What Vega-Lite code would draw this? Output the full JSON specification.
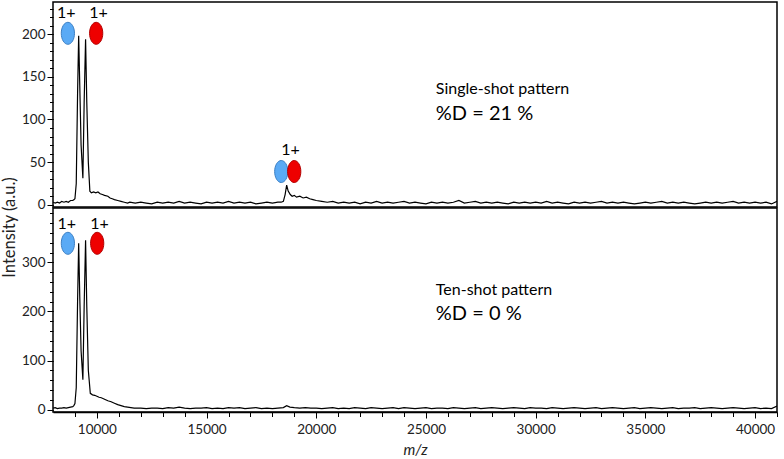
{
  "$schema": "https://vega.github.io/schema/vega-lite/v6.json",
  "padding": {"left": 0, "top": 1, "right": 6, "bottom": 4},
  "bounds": "flush",
  "spacing": 1,
  "config": {
    "font": "Lato",
    "view": {"stroke": "black", "strokeWidth": 1.5},
    "axis": {
      "grid": false,
      "domainColor": "black",
      "domainWidth": 1.5,
      "tickColor": "black",
      "tickWidth": 1,
      "labelColor": "#222",
      "labelFont": "Lato",
      "labelFontSize": 13.5,
      "titleFont": "Lato",
      "titleFontWeight": "normal",
      "titleColor": "#222"
    }
  },
  "datasets": {
    "top": [
      {"mz": 8000, "intensity": 3}, {"mz": 8100, "intensity": 2}, {"mz": 8200, "intensity": 3}, {"mz": 8300, "intensity": 2},
      {"mz": 8400, "intensity": 4}, {"mz": 8500, "intensity": 3}, {"mz": 8600, "intensity": 4}, {"mz": 8700, "intensity": 3},
      {"mz": 8800, "intensity": 5}, {"mz": 8900, "intensity": 5}, {"mz": 8950, "intensity": 6}, {"mz": 9000, "intensity": 7},
      {"mz": 9060, "intensity": 25}, {"mz": 9120, "intensity": 130}, {"mz": 9170, "intensity": 198}, {"mz": 9220, "intensity": 140},
      {"mz": 9280, "intensity": 70}, {"mz": 9362, "intensity": 31}, {"mz": 9420, "intensity": 120}, {"mz": 9485, "intensity": 194},
      {"mz": 9540, "intensity": 120}, {"mz": 9610, "intensity": 50}, {"mz": 9680, "intensity": 16}, {"mz": 9750, "intensity": 14},
      {"mz": 9850, "intensity": 15}, {"mz": 9950, "intensity": 14}, {"mz": 10050, "intensity": 15}, {"mz": 10150, "intensity": 13},
      {"mz": 10250, "intensity": 12}, {"mz": 10350, "intensity": 11}, {"mz": 10500, "intensity": 10}, {"mz": 10600, "intensity": 8},
      {"mz": 10700, "intensity": 7}, {"mz": 10800, "intensity": 6}, {"mz": 10950, "intensity": 5}, {"mz": 11100, "intensity": 4},
      {"mz": 11250, "intensity": 3}, {"mz": 11400, "intensity": 2},
      {"mz": 11500, "intensity": 3}, {"mz": 11750, "intensity": 2}, {"mz": 12000, "intensity": 3}, {"mz": 12250, "intensity": 2},
      {"mz": 12500, "intensity": 1}, {"mz": 12750, "intensity": 3}, {"mz": 13000, "intensity": 2}, {"mz": 13250, "intensity": 3},
      {"mz": 13500, "intensity": 2}, {"mz": 13750, "intensity": 4}, {"mz": 14000, "intensity": 2}, {"mz": 14250, "intensity": 3},
      {"mz": 14500, "intensity": 2}, {"mz": 14750, "intensity": 1}, {"mz": 15000, "intensity": 3}, {"mz": 15250, "intensity": 2},
      {"mz": 15500, "intensity": 3}, {"mz": 15750, "intensity": 2}, {"mz": 16000, "intensity": 4}, {"mz": 16250, "intensity": 2},
      {"mz": 16500, "intensity": 3}, {"mz": 16750, "intensity": 2}, {"mz": 17000, "intensity": 3}, {"mz": 17250, "intensity": 1},
      {"mz": 17500, "intensity": 2}, {"mz": 17750, "intensity": 3}, {"mz": 18000, "intensity": 2}, {"mz": 18250, "intensity": 3},
      {"mz": 18400, "intensity": 3}, {"mz": 18500, "intensity": 4}, {"mz": 18580, "intensity": 12}, {"mz": 18650, "intensity": 23},
      {"mz": 18720, "intensity": 16}, {"mz": 18815, "intensity": 12}, {"mz": 18900, "intensity": 10}, {"mz": 19000, "intensity": 11},
      {"mz": 19100, "intensity": 9}, {"mz": 19250, "intensity": 10}, {"mz": 19400, "intensity": 8}, {"mz": 19550, "intensity": 9},
      {"mz": 19700, "intensity": 7}, {"mz": 19850, "intensity": 6}, {"mz": 20000, "intensity": 5}, {"mz": 20250, "intensity": 4},
      {"mz": 20500, "intensity": 3}, {"mz": 20750, "intensity": 4}, {"mz": 21000, "intensity": 2}, {"mz": 21250, "intensity": 3},
      {"mz": 21500, "intensity": 2}, {"mz": 21750, "intensity": 3}, {"mz": 22000, "intensity": 1}, {"mz": 22250, "intensity": 3},
      {"mz": 22500, "intensity": 2}, {"mz": 22750, "intensity": 4}, {"mz": 23000, "intensity": 2}, {"mz": 23250, "intensity": 3},
      {"mz": 23500, "intensity": 2}, {"mz": 23750, "intensity": 3}, {"mz": 24000, "intensity": 4}, {"mz": 24250, "intensity": 2},
      {"mz": 24500, "intensity": 3}, {"mz": 24750, "intensity": 2}, {"mz": 25000, "intensity": 1}, {"mz": 25250, "intensity": 3},
      {"mz": 25500, "intensity": 2}, {"mz": 25750, "intensity": 3}, {"mz": 26000, "intensity": 2}, {"mz": 26250, "intensity": 3},
      {"mz": 26500, "intensity": 5}, {"mz": 26750, "intensity": 2}, {"mz": 27000, "intensity": 3}, {"mz": 27250, "intensity": 4},
      {"mz": 27500, "intensity": 2}, {"mz": 27750, "intensity": 3}, {"mz": 28000, "intensity": 2}, {"mz": 28250, "intensity": 3},
      {"mz": 28500, "intensity": 2}, {"mz": 28750, "intensity": 1}, {"mz": 29000, "intensity": 3}, {"mz": 29250, "intensity": 2},
      {"mz": 29500, "intensity": 3}, {"mz": 29750, "intensity": 2}, {"mz": 30000, "intensity": 3}, {"mz": 30250, "intensity": 2},
      {"mz": 30500, "intensity": 4}, {"mz": 30750, "intensity": 2}, {"mz": 31000, "intensity": 3}, {"mz": 31250, "intensity": 2},
      {"mz": 31500, "intensity": 1}, {"mz": 31750, "intensity": 3}, {"mz": 32000, "intensity": 2}, {"mz": 32250, "intensity": 3},
      {"mz": 32500, "intensity": 2}, {"mz": 32750, "intensity": 3}, {"mz": 33000, "intensity": 4}, {"mz": 33250, "intensity": 2},
      {"mz": 33500, "intensity": 3}, {"mz": 33750, "intensity": 2}, {"mz": 34000, "intensity": 3}, {"mz": 34250, "intensity": 2},
      {"mz": 34500, "intensity": 1}, {"mz": 34750, "intensity": 2}, {"mz": 35000, "intensity": 3}, {"mz": 35250, "intensity": 2},
      {"mz": 35500, "intensity": 3}, {"mz": 35750, "intensity": 4}, {"mz": 36000, "intensity": 2}, {"mz": 36250, "intensity": 3},
      {"mz": 36500, "intensity": 2}, {"mz": 36750, "intensity": 3}, {"mz": 37000, "intensity": 2}, {"mz": 37250, "intensity": 1},
      {"mz": 37500, "intensity": 2}, {"mz": 37750, "intensity": 3}, {"mz": 38000, "intensity": 2}, {"mz": 38250, "intensity": 3},
      {"mz": 38500, "intensity": 2}, {"mz": 38750, "intensity": 3}, {"mz": 39000, "intensity": 4}, {"mz": 39250, "intensity": 2},
      {"mz": 39500, "intensity": 3}, {"mz": 39750, "intensity": 2}, {"mz": 40000, "intensity": 3}, {"mz": 40250, "intensity": 2},
      {"mz": 40500, "intensity": 3}, {"mz": 40750, "intensity": 1}, {"mz": 41000, "intensity": 4}
    ],
    "bottom": [
      {"mz": 8000, "intensity": 3}, {"mz": 8100, "intensity": 4}, {"mz": 8200, "intensity": 2}, {"mz": 8300, "intensity": 3},
      {"mz": 8400, "intensity": 3}, {"mz": 8500, "intensity": 4}, {"mz": 8600, "intensity": 3}, {"mz": 8700, "intensity": 4},
      {"mz": 8800, "intensity": 5}, {"mz": 8900, "intensity": 6}, {"mz": 8950, "intensity": 8}, {"mz": 9000, "intensity": 12},
      {"mz": 9060, "intensity": 45}, {"mz": 9120, "intensity": 220}, {"mz": 9170, "intensity": 339}, {"mz": 9220, "intensity": 230},
      {"mz": 9280, "intensity": 120}, {"mz": 9362, "intensity": 61}, {"mz": 9420, "intensity": 210}, {"mz": 9485, "intensity": 345},
      {"mz": 9540, "intensity": 210}, {"mz": 9610, "intensity": 80}, {"mz": 9700, "intensity": 33}, {"mz": 9800, "intensity": 30},
      {"mz": 9900, "intensity": 29}, {"mz": 10000, "intensity": 27}, {"mz": 10100, "intensity": 25}, {"mz": 10200, "intensity": 24},
      {"mz": 10300, "intensity": 22}, {"mz": 10400, "intensity": 20}, {"mz": 10500, "intensity": 18}, {"mz": 10650, "intensity": 16},
      {"mz": 10800, "intensity": 13}, {"mz": 10950, "intensity": 10}, {"mz": 11100, "intensity": 8}, {"mz": 11250, "intensity": 6},
      {"mz": 11400, "intensity": 5}, {"mz": 11550, "intensity": 4}, {"mz": 11700, "intensity": 3},
      {"mz": 12000, "intensity": 3}, {"mz": 12250, "intensity": 2}, {"mz": 12500, "intensity": 3}, {"mz": 12750, "intensity": 3},
      {"mz": 13000, "intensity": 2}, {"mz": 13250, "intensity": 4}, {"mz": 13500, "intensity": 3}, {"mz": 13750, "intensity": 5},
      {"mz": 14000, "intensity": 3}, {"mz": 14250, "intensity": 2}, {"mz": 14500, "intensity": 3}, {"mz": 14750, "intensity": 3},
      {"mz": 15000, "intensity": 4}, {"mz": 15250, "intensity": 2}, {"mz": 15500, "intensity": 3}, {"mz": 15750, "intensity": 2},
      {"mz": 16000, "intensity": 4}, {"mz": 16250, "intensity": 3}, {"mz": 16500, "intensity": 4}, {"mz": 16750, "intensity": 2},
      {"mz": 17000, "intensity": 3}, {"mz": 17250, "intensity": 4}, {"mz": 17500, "intensity": 2}, {"mz": 17750, "intensity": 3},
      {"mz": 18000, "intensity": 2}, {"mz": 18250, "intensity": 3}, {"mz": 18500, "intensity": 4}, {"mz": 18650, "intensity": 8},
      {"mz": 18800, "intensity": 5}, {"mz": 19000, "intensity": 4}, {"mz": 19250, "intensity": 3}, {"mz": 19500, "intensity": 4},
      {"mz": 19750, "intensity": 3}, {"mz": 20000, "intensity": 3}, {"mz": 20250, "intensity": 2}, {"mz": 20500, "intensity": 3},
      {"mz": 20750, "intensity": 4}, {"mz": 21000, "intensity": 2}, {"mz": 21250, "intensity": 3}, {"mz": 21500, "intensity": 2},
      {"mz": 21750, "intensity": 4}, {"mz": 22000, "intensity": 3}, {"mz": 22250, "intensity": 2}, {"mz": 22500, "intensity": 4},
      {"mz": 22750, "intensity": 3}, {"mz": 23000, "intensity": 2}, {"mz": 23250, "intensity": 3}, {"mz": 23500, "intensity": 4},
      {"mz": 23750, "intensity": 2}, {"mz": 24000, "intensity": 4}, {"mz": 24250, "intensity": 3}, {"mz": 24500, "intensity": 2},
      {"mz": 24750, "intensity": 3}, {"mz": 25000, "intensity": 4}, {"mz": 25250, "intensity": 2}, {"mz": 25500, "intensity": 3},
      {"mz": 25750, "intensity": 3}, {"mz": 26000, "intensity": 2}, {"mz": 26250, "intensity": 4}, {"mz": 26500, "intensity": 3},
      {"mz": 26750, "intensity": 2}, {"mz": 27000, "intensity": 3}, {"mz": 27250, "intensity": 4}, {"mz": 27500, "intensity": 2},
      {"mz": 27750, "intensity": 3}, {"mz": 28000, "intensity": 4}, {"mz": 28250, "intensity": 3}, {"mz": 28500, "intensity": 2},
      {"mz": 28750, "intensity": 3}, {"mz": 29000, "intensity": 4}, {"mz": 29250, "intensity": 3}, {"mz": 29500, "intensity": 2},
      {"mz": 29750, "intensity": 4}, {"mz": 30000, "intensity": 3}, {"mz": 30250, "intensity": 3}, {"mz": 30500, "intensity": 2},
      {"mz": 30750, "intensity": 4}, {"mz": 31000, "intensity": 3}, {"mz": 31250, "intensity": 2}, {"mz": 31500, "intensity": 3},
      {"mz": 31750, "intensity": 4}, {"mz": 32000, "intensity": 3}, {"mz": 32250, "intensity": 2}, {"mz": 32500, "intensity": 3},
      {"mz": 32750, "intensity": 4}, {"mz": 33000, "intensity": 2}, {"mz": 33250, "intensity": 3}, {"mz": 33500, "intensity": 4},
      {"mz": 33750, "intensity": 3}, {"mz": 34000, "intensity": 2}, {"mz": 34250, "intensity": 3}, {"mz": 34500, "intensity": 4},
      {"mz": 34750, "intensity": 2}, {"mz": 35000, "intensity": 3}, {"mz": 35250, "intensity": 4}, {"mz": 35500, "intensity": 3},
      {"mz": 35750, "intensity": 2}, {"mz": 36000, "intensity": 3}, {"mz": 36250, "intensity": 4}, {"mz": 36500, "intensity": 2},
      {"mz": 36750, "intensity": 3}, {"mz": 37000, "intensity": 3}, {"mz": 37250, "intensity": 4}, {"mz": 37500, "intensity": 2},
      {"mz": 37750, "intensity": 3}, {"mz": 38000, "intensity": 4}, {"mz": 38250, "intensity": 3}, {"mz": 38500, "intensity": 2},
      {"mz": 38750, "intensity": 3}, {"mz": 39000, "intensity": 4}, {"mz": 39250, "intensity": 3}, {"mz": 39500, "intensity": 2},
      {"mz": 39750, "intensity": 3}, {"mz": 40000, "intensity": 4}, {"mz": 40250, "intensity": 2}, {"mz": 40500, "intensity": 3},
      {"mz": 40750, "intensity": 2}, {"mz": 41000, "intensity": 7}
    ]
  },
  "vconcat": [
    {
      "width": 724,
      "height": 205,
      "resolve": {"axis": {"x": "independent", "y": "independent"}},
      "layer": [
        {
          "data": {"name": "top"},
          "mark": {"type": "line", "color": "black", "strokeWidth": 1.2, "clip": true},
          "encoding": {
            "x": {"field": "mz", "type": "quantitative", "scale": {"domain": [8000, 41000], "nice": false, "zero": false}, "axis": null},
            "y": {"field": "intensity", "type": "quantitative", "scale": {"domain": [-2.6, 237.7], "nice": false, "zero": false},
              "axis": {"orient": "left", "values": [0, 50, 100, 150, 200], "tickSize": 6, "domain": false,
                "title": "Intensity (a.u.)", "titleFontSize": 16.5, "titleY": 225, "titleX": -36, "titleBaseline": "bottom", "titleAngle": -90, "titleAnchor": "middle", "titleAlign": "center"}}
          }
        },
        {
          "data": {"values": [
            {"mz": 8678, "intensity": 201, "ion": "blue"},
            {"mz": 9968, "intensity": 201, "ion": "red"},
            {"mz": 18404, "intensity": 39, "ion": "blue"},
            {"mz": 18995, "intensity": 39, "ion": "red"}
          ]},
          "mark": {"type": "point", "filled": true, "opacity": 1, "size": 484, "strokeWidth": 1, "shape": "M0,-1A0.6,1,0,1,1,0,1A0.6,1,0,1,1,0,-1Z"},
          "encoding": {
            "x": {"field": "mz", "type": "quantitative", "axis": null},
            "y": {"field": "intensity", "type": "quantitative",
              "axis": {"orient": "left", "values": [0,10,20,30,40,50,60,70,80,90,100,110,120,130,140,150,160,170,180,190,200,210,220,230], "labels": false, "domain": false, "tickSize": 3.5, "title": null}},
            "fill": {"field": "ion", "type": "nominal", "scale": {"domain": ["blue", "red"], "range": ["#5aaaf5", "#ee0000"]}, "legend": null},
            "stroke": {"field": "ion", "type": "nominal", "scale": {"domain": ["blue", "red"], "range": ["#3b7fc4", "#b30000"]}, "legend": null}
          }
        },
        {
          "data": {"values": [
            {"mz": 8600, "intensity": 224.6, "label": "1+"},
            {"mz": 10073, "intensity": 224.6, "label": "1+"},
            {"mz": 18828, "intensity": 64.5, "label": "1+"}
          ]},
          "mark": {"type": "text", "fontSize": 16, "color": "black", "font": "Lato"},
          "encoding": {
            "x": {"field": "mz", "type": "quantitative", "axis": null},
            "y": {"field": "intensity", "type": "quantitative", "axis": null},
            "text": {"field": "label"}
          }
        },
        {
          "data": {"values": [{"mz": 25450, "intensity": 136, "label": "Single-shot pattern"}]},
          "mark": {"type": "text", "fontSize": 16, "align": "left", "color": "black", "font": "Lato"},
          "encoding": {
            "x": {"field": "mz", "type": "quantitative", "axis": null},
            "y": {"field": "intensity", "type": "quantitative", "axis": null},
            "text": {"field": "label"}
          }
        },
        {
          "data": {"values": [{"mz": 25450, "intensity": 107, "label": "%D = 21 %"}]},
          "mark": {"type": "text", "fontSize": 20, "align": "left", "color": "black", "font": "Lato"},
          "encoding": {
            "x": {"field": "mz", "type": "quantitative", "axis": null},
            "y": {"field": "intensity", "type": "quantitative", "axis": null},
            "text": {"field": "label"}
          }
        }
      ]
    },
    {
      "width": 724,
      "height": 204,
      "resolve": {"axis": {"x": "independent", "y": "independent"}},
      "layer": [
        {
          "data": {"name": "bottom"},
          "mark": {"type": "line", "color": "black", "strokeWidth": 1.2, "clip": true},
          "encoding": {
            "x": {"field": "mz", "type": "quantitative", "scale": {"domain": [8000, 41000], "nice": false, "zero": false},
              "axis": {"orient": "bottom", "values": [10000, 15000, 20000, 25000, 30000, 35000, 40000], "format": "d", "tickSize": 6, "labelPadding": 4,
                "title": "m/z", "titleFontSize": 15, "titleFontStyle": "italic", "titlePadding": 7}},
            "y": {"field": "intensity", "type": "quantitative", "scale": {"domain": [-5, 411], "nice": false, "zero": false},
              "axis": {"orient": "left", "values": [0, 100, 200, 300], "tickSize": 6, "domain": false, "title": null}}
          }
        },
        {
          "data": {"values": [
            {"mz": 8678, "intensity": 339, "ion": "blue"},
            {"mz": 10014, "intensity": 339, "ion": "red"}
          ]},
          "mark": {"type": "point", "filled": true, "opacity": 1, "size": 484, "strokeWidth": 1, "shape": "M0,-1A0.6,1,0,1,1,0,1A0.6,1,0,1,1,0,-1Z"},
          "encoding": {
            "x": {"field": "mz", "type": "quantitative",
              "axis": {"orient": "bottom", "values": [9000,10000,11000,12000,13000,14000,15000,16000,17000,18000,19000,20000,21000,22000,23000,24000,25000,26000,27000,28000,29000,30000,31000,32000,33000,34000,35000,36000,37000,38000,39000,40000,41000], "labels": false, "domain": false, "tickSize": 4.5, "title": null}},
            "y": {"field": "intensity", "type": "quantitative",
              "axis": {"orient": "left", "values": [0,20,40,60,80,100,120,140,160,180,200,220,240,260,280,300,320,340,360,380,400], "labels": false, "domain": false, "tickSize": 3.5, "title": null}},
            "fill": {"field": "ion", "type": "nominal", "scale": {"domain": ["blue", "red"], "range": ["#5aaaf5", "#ee0000"]}, "legend": null},
            "stroke": {"field": "ion", "type": "nominal", "scale": {"domain": ["blue", "red"], "range": ["#3b7fc4", "#b30000"]}, "legend": null}
          }
        },
        {
          "data": {"values": [
            {"mz": 8632, "intensity": 378, "label": "1+"},
            {"mz": 10119, "intensity": 378, "label": "1+"}
          ]},
          "mark": {"type": "text", "fontSize": 16, "color": "black", "font": "Lato"},
          "encoding": {
            "x": {"field": "mz", "type": "quantitative", "axis": null},
            "y": {"field": "intensity", "type": "quantitative", "axis": null},
            "text": {"field": "label"}
          }
        },
        {
          "data": {"values": [{"mz": 25450, "intensity": 243, "label": "Ten-shot pattern"}]},
          "mark": {"type": "text", "fontSize": 16, "align": "left", "color": "black", "font": "Lato"},
          "encoding": {
            "x": {"field": "mz", "type": "quantitative", "axis": null},
            "y": {"field": "intensity", "type": "quantitative", "axis": null},
            "text": {"field": "label"}
          }
        },
        {
          "data": {"values": [{"mz": 25450, "intensity": 194, "label": "%D = 0 %"}]},
          "mark": {"type": "text", "fontSize": 20, "align": "left", "color": "black", "font": "Lato"},
          "encoding": {
            "x": {"field": "mz", "type": "quantitative", "axis": null},
            "y": {"field": "intensity", "type": "quantitative", "axis": null},
            "text": {"field": "label"}
          }
        }
      ]
    }
  ]
}
